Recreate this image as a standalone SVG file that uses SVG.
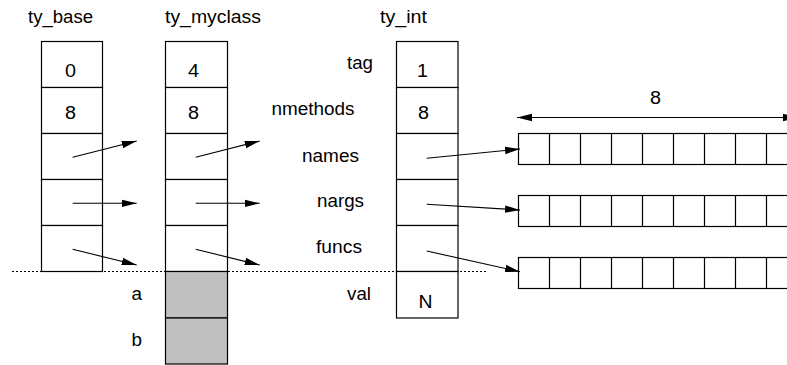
<svg xmlns="http://www.w3.org/2000/svg" width="787" height="365" viewBox="0 0 787 365">
<style>
text{font-family:"Liberation Sans",Arial,sans-serif;font-size:17.5px;fill:#000}
.cell{fill:#fff;stroke:#000;stroke-width:1.2}
.gray{fill:#c0c0c0;stroke:#000;stroke-width:1.2}
.arr{stroke:#000;stroke-width:1.1;fill:none;marker-end:url(#ah)}
.dot{stroke:#000;stroke-width:1.1;stroke-dasharray:2,2}
</style>
<defs>
<marker id="ah" markerUnits="userSpaceOnUse" markerWidth="16" markerHeight="9" refX="15" refY="4.5" orient="auto">
<path d="M0,0.8 L15,4.5 L0,8.2 z" fill="#000"/>
</marker>
<marker id="ahs" markerUnits="userSpaceOnUse" markerWidth="16" markerHeight="9" refX="0" refY="4.5" orient="auto">
<path d="M15,0.8 L0,4.5 L15,8.2 z" fill="#000"/>
</marker>
</defs>

<g id="titles">
<text x="28" y="23" textLength="65" lengthAdjust="spacingAndGlyphs">ty_base</text>
<text x="165" y="23" textLength="96" lengthAdjust="spacingAndGlyphs">ty_myclass</text>
<text x="380" y="23" textLength="47" lengthAdjust="spacingAndGlyphs">ty_int</text>
</g>

<g id="ty_base">
<rect class="cell" x="41.5" y="41.5" width="61" height="46"/>
<rect class="cell" x="41.5" y="87.5" width="61" height="46"/>
<rect class="cell" x="41.5" y="133.5" width="61" height="46"/>
<rect class="cell" x="41.5" y="179.5" width="61" height="46"/>
<rect class="cell" x="41.5" y="225.5" width="61" height="46"/>
<text x="65" y="77" textLength="11" lengthAdjust="spacingAndGlyphs">0</text>
<text x="65" y="119" textLength="11" lengthAdjust="spacingAndGlyphs">8</text>
</g>

<g id="ty_myclass">
<rect class="cell" x="165.5" y="41.5" width="62" height="46"/>
<rect class="cell" x="165.5" y="87.5" width="62" height="46"/>
<rect class="cell" x="165.5" y="133.5" width="62" height="46"/>
<rect class="cell" x="165.5" y="179.5" width="62" height="46"/>
<rect class="cell" x="165.5" y="225.5" width="62" height="46"/>
<rect class="gray" x="165.5" y="271.5" width="62" height="46.5"/>
<rect class="gray" x="165.5" y="318" width="62" height="46"/>
<text x="188" y="77" textLength="11" lengthAdjust="spacingAndGlyphs">4</text>
<text x="188" y="119" textLength="11" lengthAdjust="spacingAndGlyphs">8</text>
<text x="131.5" y="300" textLength="10.5" lengthAdjust="spacingAndGlyphs">a</text>
<text x="131.5" y="346" textLength="10.5" lengthAdjust="spacingAndGlyphs">b</text>
</g>

<g id="ty_int">
<rect class="cell" x="396.5" y="41.5" width="61.5" height="46"/>
<rect class="cell" x="396.5" y="87.5" width="61.5" height="46"/>
<rect class="cell" x="396.5" y="133.5" width="61.5" height="46"/>
<rect class="cell" x="396.5" y="179.5" width="61.5" height="46"/>
<rect class="cell" x="396.5" y="225.5" width="61.5" height="46"/>
<rect class="cell" x="396.5" y="271.5" width="61.5" height="46.5"/>
<text x="417" y="77" textLength="11" lengthAdjust="spacingAndGlyphs">1</text>
<text x="418" y="119" textLength="11" lengthAdjust="spacingAndGlyphs">8</text>
<text x="418.5" y="308" textLength="14" lengthAdjust="spacingAndGlyphs">N</text>
</g>

<g id="field-labels">
<text x="347" y="69" textLength="26" lengthAdjust="spacingAndGlyphs">tag</text>
<text x="271.5" y="115" textLength="83" lengthAdjust="spacingAndGlyphs">nmethods</text>
<text x="302" y="161.5" textLength="57" lengthAdjust="spacingAndGlyphs">names</text>
<text x="317" y="206.5" textLength="47" lengthAdjust="spacingAndGlyphs">nargs</text>
<text x="316" y="253" textLength="46" lengthAdjust="spacingAndGlyphs">funcs</text>
<text x="347" y="300" textLength="24" lengthAdjust="spacingAndGlyphs">val</text>
</g>

<g id="array-names">
<rect class="cell" x="518.5" y="133.5" width="290" height="31"/>
<path d="M549.5,133.5V164.5M580.5,133.5V164.5M611.5,133.5V164.5M642.5,133.5V164.5M673.5,133.5V164.5M704.5,133.5V164.5M735.5,133.5V164.5M766.5,133.5V164.5" stroke="#000" stroke-width="1.2"/>
</g>
<g id="array-nargs">
<rect class="cell" x="518.5" y="195.5" width="290" height="31"/>
<path d="M549.5,195.5V226.5M580.5,195.5V226.5M611.5,195.5V226.5M642.5,195.5V226.5M673.5,195.5V226.5M704.5,195.5V226.5M735.5,195.5V226.5M766.5,195.5V226.5" stroke="#000" stroke-width="1.2"/>
</g>
<g id="array-funcs">
<rect class="cell" x="518.5" y="257.5" width="290" height="31"/>
<path d="M549.5,257.5V288.5M580.5,257.5V288.5M611.5,257.5V288.5M642.5,257.5V288.5M673.5,257.5V288.5M704.5,257.5V288.5M735.5,257.5V288.5M766.5,257.5V288.5" stroke="#000" stroke-width="1.2"/>
</g>

<g id="dimension">
<line x1="517" y1="117.5" x2="798" y2="117.5" stroke="#000" stroke-width="1.1" marker-start="url(#ahs)" marker-end="url(#ah)"/>
<text x="650" y="104" textLength="11" lengthAdjust="spacingAndGlyphs">8</text>
</g>

<g id="connectors">
<line class="dot" x1="12" y1="271.5" x2="487" y2="271.5"/>
<line class="arr" x1="72.7" y1="157.3" x2="136.7" y2="141"/>
<line class="arr" x1="72.7" y1="203.3" x2="136.7" y2="203.3"/>
<line class="arr" x1="72.7" y1="249.3" x2="136.7" y2="265"/>
<line class="arr" x1="195.7" y1="157.3" x2="259.7" y2="141"/>
<line class="arr" x1="195.7" y1="203.3" x2="259.7" y2="203.3"/>
<line class="arr" x1="195.7" y1="249.3" x2="259.7" y2="265"/>
<line class="arr" x1="426.7" y1="158.3" x2="520" y2="149"/>
<line class="arr" x1="426.7" y1="204.3" x2="520" y2="210"/>
<line class="arr" x1="426.7" y1="251" x2="520" y2="271.7"/>
</g>
</svg>
